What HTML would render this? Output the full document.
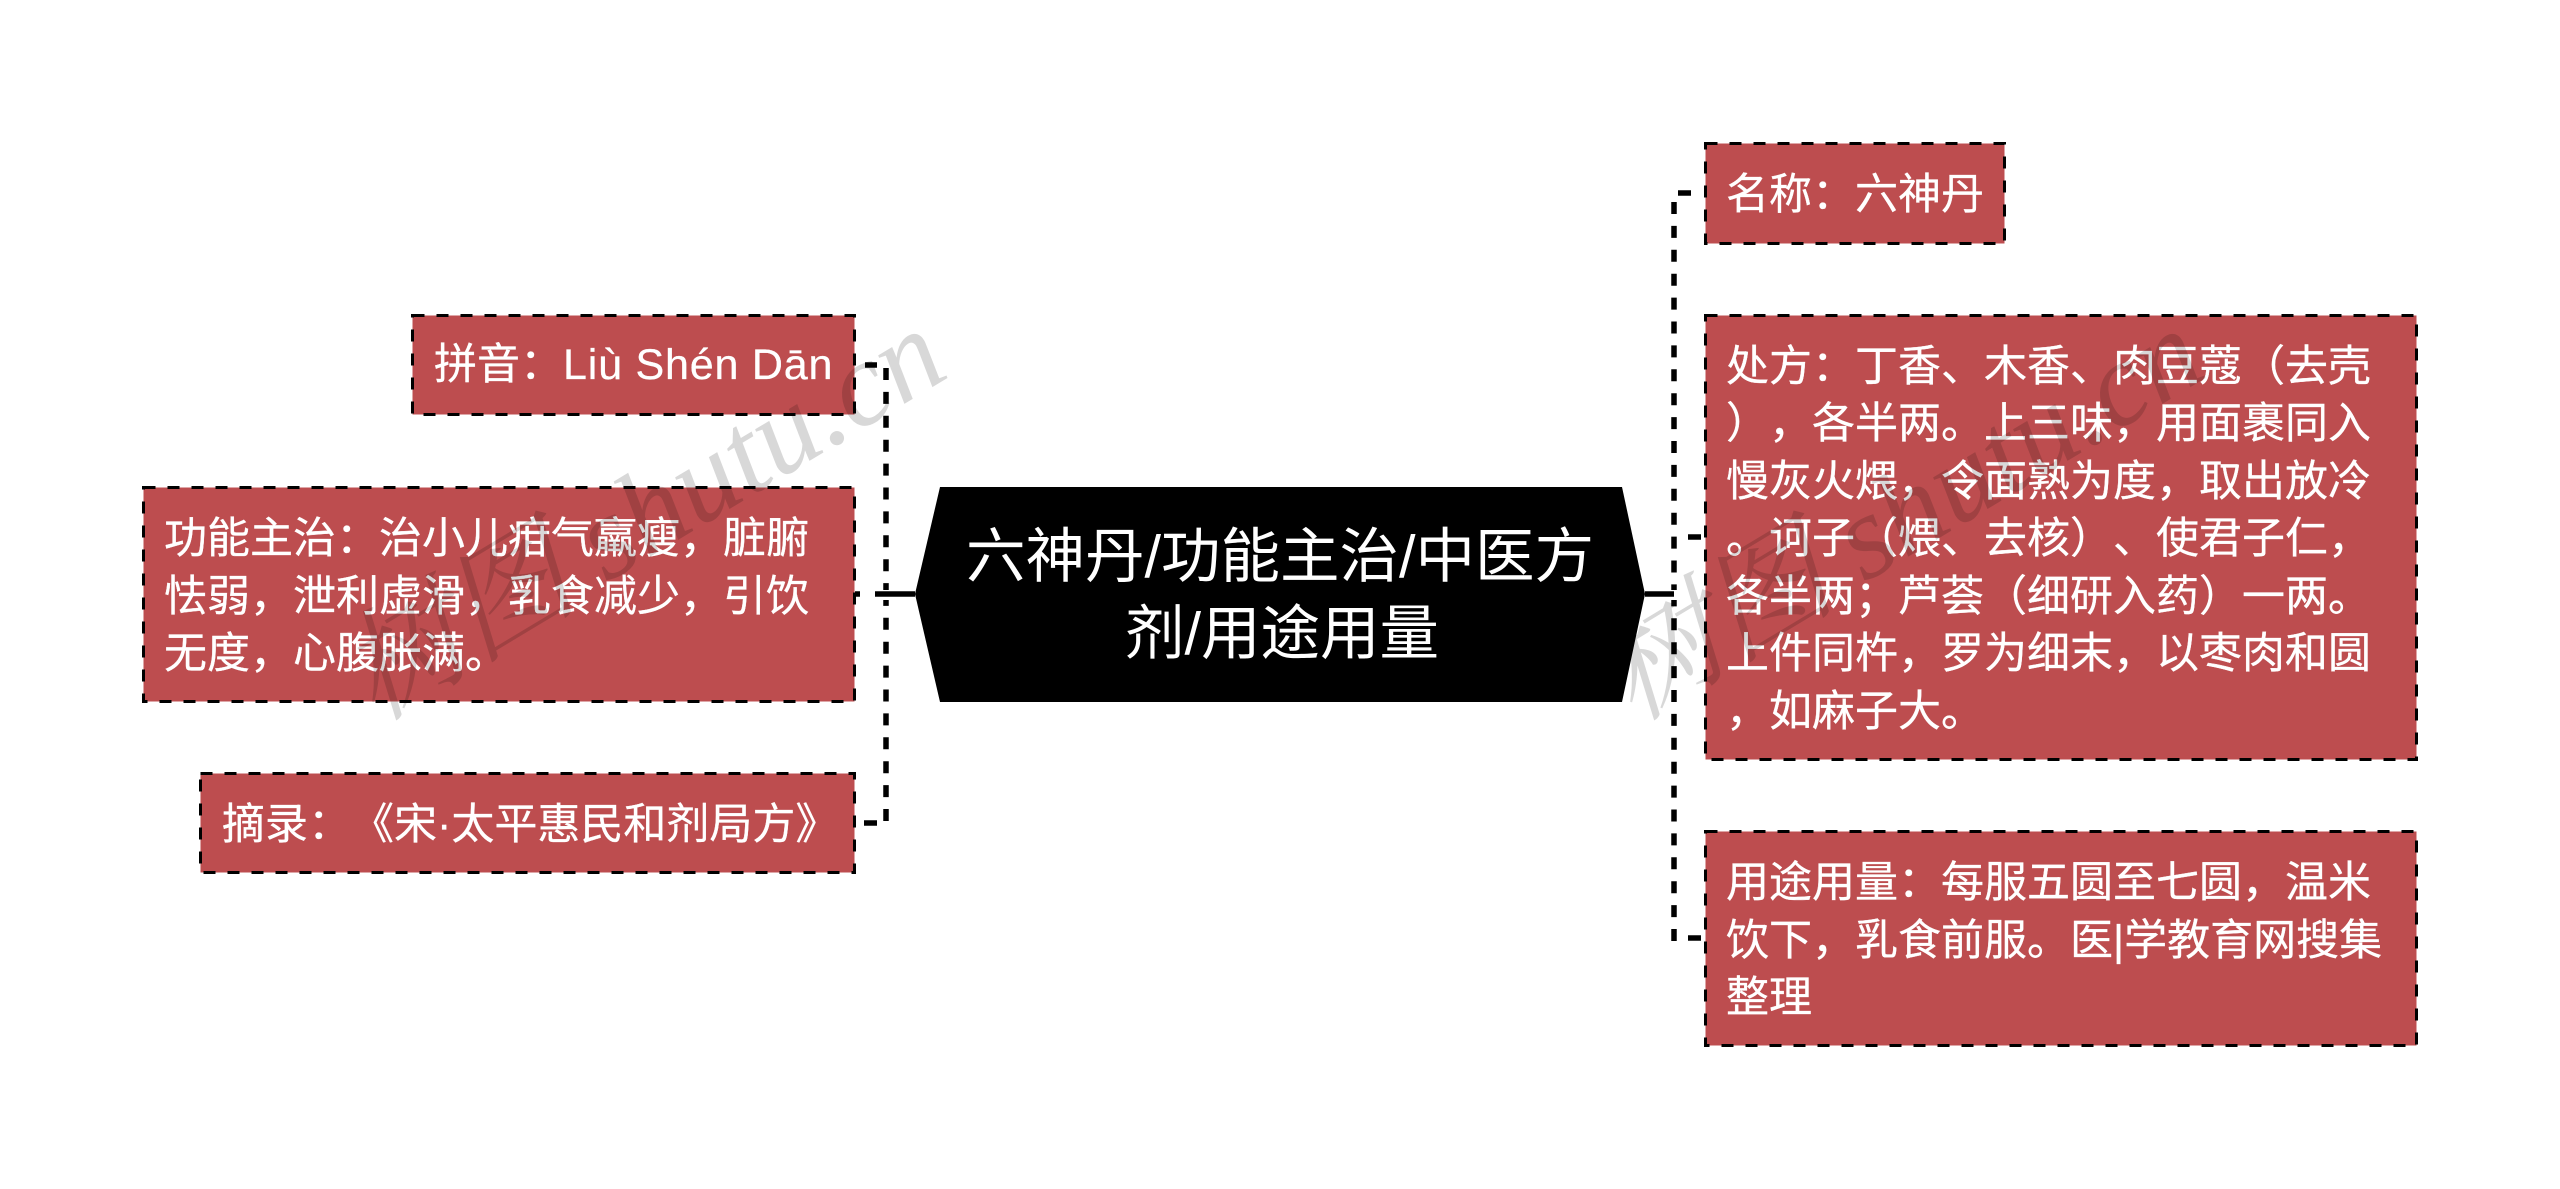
<!DOCTYPE html>
<html lang="zh"><head><meta charset="utf-8"><title>六神丹</title>
<style>
html,body{margin:0;padding:0;background:#fff;width:2560px;height:1189px;overflow:hidden}
svg{display:block}
text{font-family:"Liberation Sans","Noto Sans CJK SC",sans-serif;text-spacing-trim:space-all;text-autospace:no-autospace;font-kerning:none}
.t{font-size:43px;fill:#fff;stroke:#fff;stroke-width:.3}
.c{font-size:59.5px;fill:#fff;text-anchor:middle}
.b{fill:#bd4d4f;stroke:#000;stroke-width:3;stroke-dasharray:12 12}
.l{fill:none;stroke:#000;stroke-width:5.5}
.d{stroke-dasharray:12 11.9}
.w{font-family:"Liberation Serif","Noto Serif CJK SC",serif;font-style:italic;font-size:120px;fill:#000;opacity:.15}
</style></head><body>
<svg width="2560" height="1189" viewBox="0 0 2560 1189" xmlns="http://www.w3.org/2000/svg">
<rect width="2560" height="1189" fill="#fff"/>
<!-- connectors -->
<path class="l d" d="M886 368V590"/><path class="l d" d="M886 821V600"/>
<path class="l d" d="M1674 202V590"/><path class="l d" d="M1674 941V600"/>
<path class="l" d="M865 365H877M864 823H877M855 594H860M875 594H915M1645 594H1674M1678 193H1691M1688 537H1701M1688 938H1701"/>
<!-- boxes -->
<rect class="b" x="412.5" y="315.5" width="442" height="99"/>
<rect class="b" x="143.5" y="487.5" width="711" height="214"/>
<rect class="b" x="200.5" y="773.5" width="654" height="99"/>
<rect class="b" x="1705.5" y="143.5" width="299" height="100"/>
<rect class="b" x="1705.5" y="315.5" width="711" height="444"/>
<rect class="b" x="1705.5" y="831.5" width="711" height="214"/>
<polygon points="940,487 1622,487 1645,594 1622,702 940,702 915,594" fill="#000"/>
<!-- center -->
<text class="c" x="1280" y="577">六神丹/功能主治/中医方</text>
<text class="c" x="1282" y="654">剂/用途用量</text>
<!-- left -->
<text class="t" x="434" y="379">拼音：<tspan letter-spacing=".8">Liù Shén Dān</tspan></text>
<text class="t" x="164" y="553">功能主治：治小儿疳气羸瘦，脏腑</text>
<text class="t" x="164" y="611">怯弱，泄利虚滑，乳食减少，引饮</text>
<text class="t" x="164" y="668">无度，心腹胀满。</text>
<text class="t" x="222" y="839">摘录：《宋·太平惠民和剂局方》</text>
<!-- right -->
<text class="t" x="1726" y="209">名称：六神丹</text>
<text class="t" x="1726" y="381">处方：丁香、木香、肉豆蔻（去壳</text>
<text class="t" x="1726" y="438">），各半两。上三味，用面裹同入</text>
<text class="t" x="1726" y="496">慢灰火煨，令面熟为度，取出放冷</text>
<text class="t" x="1726" y="553">。诃子（煨、去核）、使君子仁，</text>
<text class="t" x="1726" y="611">各半两；芦荟（细研入药）一两。</text>
<text class="t" x="1726" y="668">上件同杵，罗为细末，以枣肉和圆</text>
<text class="t" x="1726" y="726">，如麻子大。</text>
<text class="t" x="1726" y="897">用途用量：每服五圆至七圆，温米</text>
<text class="t" x="1726" y="955">饮下，乳食前服。医|学教育网搜集</text>
<text class="t" x="1726" y="1012">整理</text>
<!-- watermark -->
<text class="w" transform="translate(375 722) rotate(-31)">树图 shutu.cn</text>
<text class="w" transform="translate(1633 722) rotate(-31)">树图 shutu.cn</text>
</svg>
</body></html>
